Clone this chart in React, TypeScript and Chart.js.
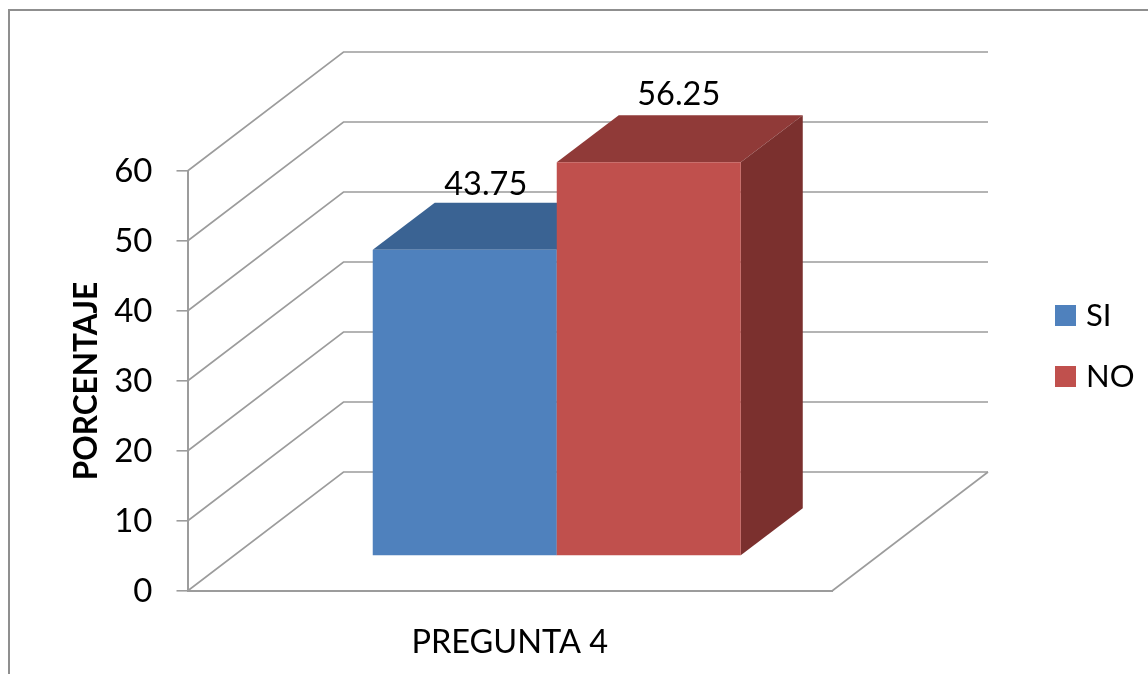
import React, { useEffect, useRef } from "react";
import { Chart, registerables } from "chart.js";

Chart.register(...registerables);

const categories = ["PREGUNTA 4"];
const siValues = [43.75];
const noValues = [56.25];
const seriesNames = ["SI", "NO"];
const yAxisTitle = "PORCENTAJE";

const FONT = "Lato, Carlito, Calibri, sans-serif";
const GRID = "#9c9c9c";
const FRONT = ["#4f81bd", "#c0504d"];
const TOP = ["#3a6393", "#903a38"];
const SIDE = ["#2f4f76", "#7b302e"];

// Oblique projection of the 3D box: wall depth, bar front inset and bar depth.
const WALL = { dx: 156, dy: -119 };
const INSET = { dx: 47, dy: -35 };
const DEPTH = { dx: 62, dy: -47 };
const LABEL_SHIFT = [
  { dx: 21, dy: -65 },
  { dx: 30, dy: -68 },
];

const poly = (ctx: CanvasRenderingContext2D, pts: number[][], fill: string) => {
  ctx.beginPath();
  pts.forEach(([x, y], i) => (i ? ctx.lineTo(x, y) : ctx.moveTo(x, y)));
  ctx.closePath();
  ctx.fillStyle = fill;
  ctx.fill();
};

const box3d = {
  id: "box3d",
  beforeDatasetsDraw(chart: any) {
    const { ctx, chartArea: a, scales } = chart;

    // Outer frame, back wall, side wall and floor.
    ctx.save();
    ctx.strokeStyle = "#8f8f8f";
    ctx.lineWidth = 2;
    ctx.beginPath();
    ctx.moveTo(9, chart.height);
    ctx.lineTo(9, 10);
    ctx.lineTo(chart.width, 10);
    ctx.stroke();

    ctx.strokeStyle = GRID;
    ctx.lineWidth = 1.6;
    scales.y.ticks.forEach((t: any) => {
      const y = scales.y.getPixelForValue(t.value);
      ctx.beginPath();
      ctx.moveTo(a.left, y);
      ctx.lineTo(a.left + WALL.dx, y + WALL.dy);
      ctx.lineTo(a.right + WALL.dx, y + WALL.dy);
      ctx.stroke();
    });
    ctx.beginPath();
    ctx.moveTo(a.right, a.bottom);
    ctx.lineTo(a.right + WALL.dx, a.bottom + WALL.dy);
    ctx.stroke();
    ctx.restore();

    // Bars left to right, so each one hides the side face of the previous one:
    // top and side faces first, then the library draws the front face shifted into the box.
    chart.data.datasets.forEach((_: any, i: number) => {
      const meta = chart.getDatasetMeta(i);
      ctx.save();
      ctx.translate(INSET.dx, INSET.dy);
      meta.data.forEach((bar: any) => {
        const l = bar.x - bar.width / 2;
        const r = bar.x + bar.width / 2;
        poly(ctx, [[l, bar.y], [r, bar.y], [r + DEPTH.dx, bar.y + DEPTH.dy], [l + DEPTH.dx, bar.y + DEPTH.dy]], TOP[i]);
        poly(ctx, [[r, bar.y], [r + DEPTH.dx, bar.y + DEPTH.dy], [r + DEPTH.dx, bar.base + DEPTH.dy], [r, bar.base]], SIDE[i]);
      });
      meta.controller.draw();
      ctx.restore();
    });

    // Value labels and the legend on the right.
    ctx.save();
    ctx.fillStyle = "#000";
    ctx.font = `32.5px ${FONT}`;
    ctx.textAlign = "center";
    ctx.textBaseline = "middle";
    chart.data.datasets.forEach((ds: any, i: number) => {
      const bar = chart.getDatasetMeta(i).data[0];
      ctx.fillText(
        String(ds.data[0]),
        bar.x + INSET.dx + LABEL_SHIFT[i].dx,
        bar.y + INSET.dy + LABEL_SHIFT[i].dy
      );
    });
    ctx.font = `31px ${FONT}`;
    ctx.textAlign = "left";
    chart.data.datasets.forEach((ds: any, i: number) => {
      const y = 305 + i * 61;
      ctx.fillStyle = ds.backgroundColor;
      ctx.fillRect(1055, y, 21, 21);
      ctx.fillStyle = "#000";
      ctx.fillText(ds.label, 1086, y + 11);
    });
    ctx.restore();

    // Everything is painted above, so the default dataset pass is skipped.
    return false;
  },
};

export default function App() {
  const ref = useRef<HTMLCanvasElement>(null);
  useEffect(() => {
    const chart = new Chart(ref.current!, {
      type: "bar",
      data: {
        labels: categories,
        datasets: [
          { label: seriesNames[0], data: siValues, backgroundColor: FRONT[0] },
          { label: seriesNames[1], data: noValues, backgroundColor: FRONT[1] },
        ],
      } as any,
      plugins: [box3d],
      options: {
        animation: false,
        responsive: false,
        layout: { padding: { top: 171, right: 316, left: 0, bottom: 0 } },
        datasets: { bar: { categoryPercentage: 0.571, barPercentage: 1 } },
        plugins: { legend: { display: false }, tooltip: { enabled: false } },
        scales: {
          x: {
            afterFit: (s: any) => {
              s.height = 83;
            },
            grid: { display: false },
            border: { color: GRID, width: 2 },
            ticks: { color: "#000", padding: 24, font: { family: FONT, size: 32.5 } },
          },
          y: {
            min: 0,
            max: 60,
            afterFit: (s: any) => {
              s.width = 187.5;
            },
            border: { color: GRID, width: 2 },
            grid: { drawOnChartArea: false, drawTicks: true, tickLength: 11, color: GRID, lineWidth: 1.6 },
            ticks: { stepSize: 10, color: "#000", padding: 24, font: { family: FONT, size: 33 } },
            title: {
              display: true,
              text: yAxisTitle,
              color: "#000",
              padding: { top: 68, bottom: 0 },
              font: { family: FONT, size: 31.5, weight: "bold" },
            },
          },
        },
      } as any,
    });
    return () => chart.destroy();
  }, []);
  return (
    <canvas
      ref={ref}
      width={1148}
      height={674}
      style={{ position: "absolute", left: 0, top: 0, display: "block" }}
    />
  );
}
